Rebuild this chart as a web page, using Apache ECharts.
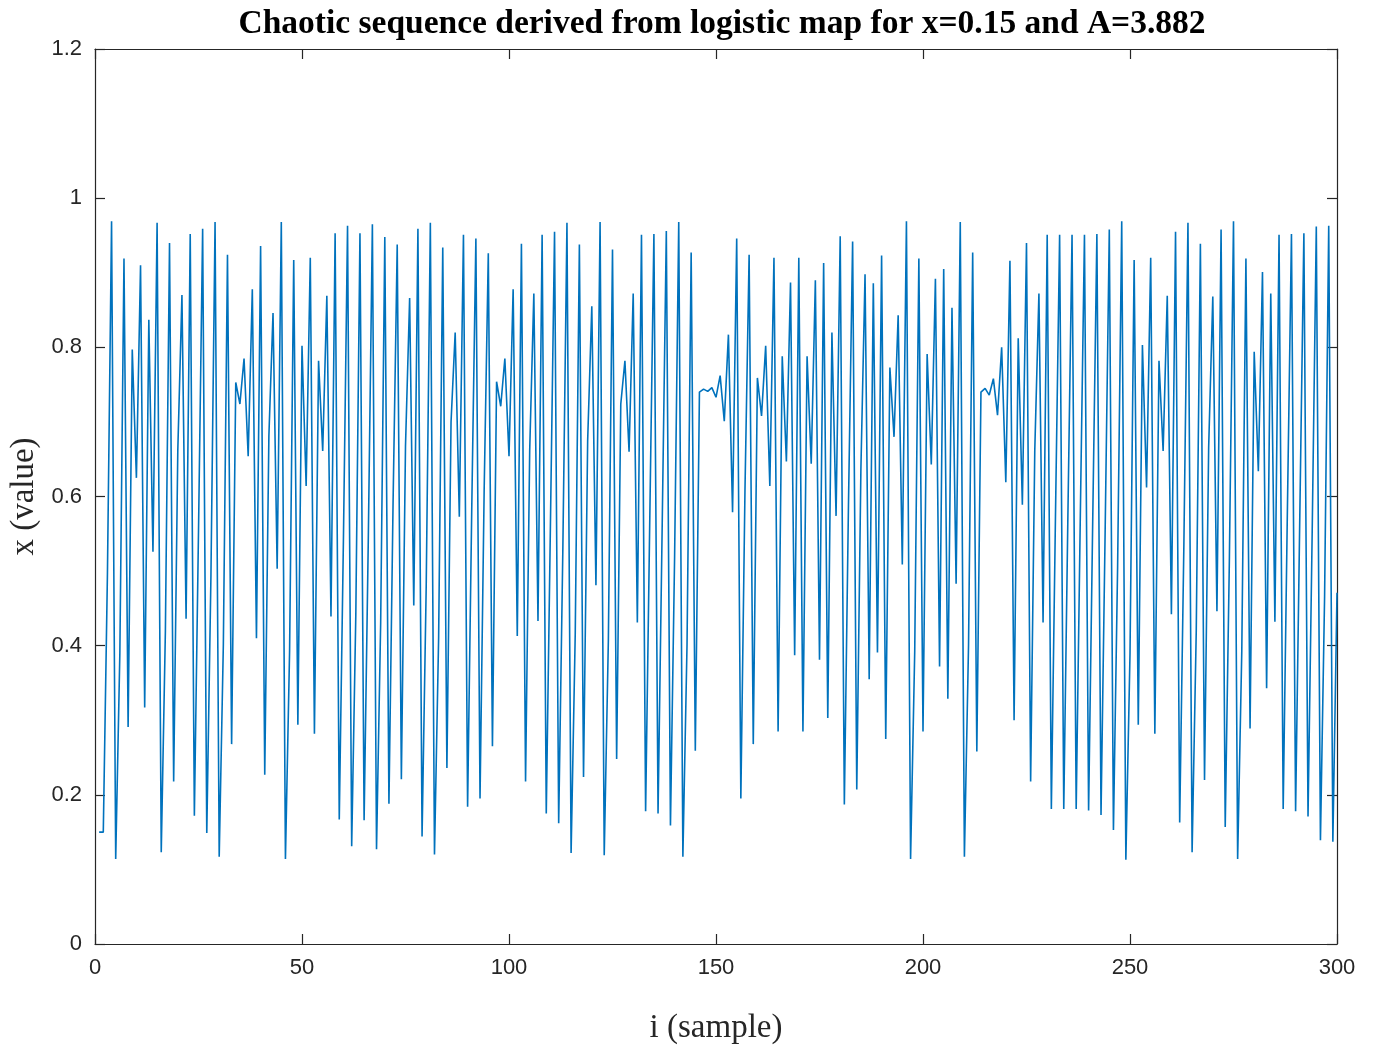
<!DOCTYPE html>
<html>
<head>
<meta charset="utf-8">
<title>Logistic map chaotic sequence</title>
<script src="https://cdn.jsdelivr.net/npm/echarts@6.0.0/dist/echarts.min.js"></script>
<style>
  html, body { margin: 0; padding: 0; background: #fff; }
  #chart { width: 1374px; height: 1049px; }
</style>
</head>
<body>
<div id="chart"></div>
<script>
  // x values, samples 1..300 in blocks of 50
  var seg1 = [0.150,0.150,0.495,0.969,0.114,0.389,0.919,0.291,0.797,0.625,
    0.910,0.317,0.837,0.526,0.967,0.123,0.419,0.940,0.218,0.662,
    0.870,0.436,0.952,0.172,0.553,0.959,0.149,0.492,0.968,0.117,
    0.401,0.924,0.268,0.753,0.724,0.785,0.654,0.878,0.410,0.936,
    0.227,0.681,0.846,0.503,0.968,0.114,0.392,0.917,0.294,0.802]
  var seg2 = [0.614,0.920,0.282,0.782,0.661,0.869,0.439,0.953,0.167,0.540,
    0.963,0.131,0.442,0.953,0.166,0.537,0.965,0.127,0.430,0.948,
    0.188,0.593,0.938,0.221,0.668,0.866,0.454,0.959,0.144,0.479,
    0.967,0.120,0.410,0.934,0.236,0.700,0.820,0.573,0.951,0.184,
    0.583,0.946,0.195,0.609,0.926,0.265,0.754,0.721,0.785,0.654]
  var seg3 = [0.878,0.413,0.939,0.218,0.662,0.872,0.433,0.951,0.175,0.560,
    0.955,0.162,0.527,0.967,0.122,0.416,0.938,0.224,0.675,0.855,
    0.481,0.968,0.119,0.407,0.931,0.248,0.724,0.782,0.660,0.872,
    0.431,0.951,0.178,0.568,0.952,0.175,0.560,0.956,0.159,0.519,
    0.968,0.117,0.401,0.927,0.259,0.740,0.744,0.741,0.746,0.733]
  var seg4 = [0.762,0.701,0.817,0.579,0.946,0.195,0.609,0.924,0.268,0.759,
    0.708,0.802,0.614,0.920,0.285,0.788,0.647,0.887,0.387,0.920,
    0.285,0.788,0.644,0.890,0.381,0.913,0.303,0.820,0.574,0.949,
    0.187,0.590,0.942,0.207,0.637,0.898,0.355,0.886,0.391,0.923,
    0.275,0.773,0.680,0.843,0.509,0.969,0.114,0.392,0.919,0.285]
  var seg5 = [0.791,0.643,0.892,0.372,0.905,0.329,0.853,0.483,0.968,0.117,
    0.401,0.927,0.258,0.740,0.745,0.736,0.758,0.709,0.800,0.619,
    0.916,0.300,0.812,0.589,0.940,0.218,0.662,0.872,0.431,0.951,
    0.181,0.575,0.951,0.181,0.575,0.951,0.181,0.575,0.951,0.179,
    0.570,0.952,0.173,0.555,0.958,0.153,0.503,0.969,0.113,0.389]
  var seg6 = [0.917,0.294,0.803,0.612,0.920,0.282,0.782,0.661,0.869,0.442,
    0.955,0.163,0.530,0.967,0.123,0.419,0.939,0.220,0.666,0.868,
    0.446,0.958,0.157,0.514,0.969,0.114,0.392,0.919,0.289,0.794,
    0.634,0.901,0.343,0.872,0.432,0.951,0.181,0.575,0.952,0.178,
    0.568,0.953,0.171,0.550,0.962,0.139,0.465,0.963,0.137,0.471]

  var xTicks = [0, 50, 100, 150, 200, 250, 300]
  var yTicks = [0, 0.2, 0.4, 0.6, 0.8, 1, 1.2]

  var values = seg1.concat(seg2, seg3, seg4, seg5, seg6)
  var points = values.map(function (v, k) { return [k + 1, v] })

  var serif = '"Liberation Serif", "Times New Roman", serif'
  var sans = '"Liberation Sans", Arial, sans-serif'

  function boxAxis(pos, ticks, showLabel, extra) {
    var ax = {
      type: 'value',
      position: pos,
      min: ticks[0],
      max: ticks[ticks.length - 1],
      interval: ticks[1] - ticks[0],
      axisLine: { show: true, onZero: false, lineStyle: { color: '#262626', width: 1.2 } },
      axisTick: { show: true, inside: true, length: 10, lineStyle: { color: '#262626', width: 1.2 } },
      axisLabel: {
        show: showLabel,
        fontFamily: sans,
        fontSize: 22,
        color: '#262626',
        margin: 13,
        formatter: function (v) { return String(parseFloat(v.toFixed(1))) }
      },
      splitLine: { show: false }
    }
    return Object.assign(ax, extra || {})
  }

  var chart = echarts.init(document.getElementById('chart'))
  chart.setOption({
    animation: false,
    backgroundColor: '#ffffff',
    title: {
      text: 'Chaotic sequence derived from logistic map for x=0.15 and A=3.882',
      left: 717,
      textAlign: 'center',
      top: 2,
      textStyle: { fontFamily: serif, fontWeight: 'bold', fontSize: 33.5, color: '#000' }
    },
    grid: { left: 95, right: 37, top: 49, bottom: 105, containLabel: false, outerBoundsMode: 'none' },
    xAxis: [
      boxAxis('bottom', xTicks, true, {
        name: 'i (sample)',
        nameLocation: 'middle',
        nameGap: 68,
        nameTextStyle: { fontFamily: serif, fontSize: 33, color: '#262626' }
      }),
      boxAxis('top', xTicks, false)
    ],
    yAxis: [
      boxAxis('left', yTicks, true, {
        name: 'x (value)',
        nameLocation: 'middle',
        nameGap: 50,
        nameTextStyle: { fontFamily: serif, fontSize: 33, color: '#262626' }
      }),
      boxAxis('right', yTicks, false)
    ],
    series: [
      {
        name: 'x',
        type: 'line',
        xAxisIndex: 0,
        yAxisIndex: 0,
        data: points,
        showSymbol: false,
        symbol: 'none',
        lineStyle: { color: '#0072BD', width: 1.6 }
      }
    ]
  })
</script>
</body>
</html>
